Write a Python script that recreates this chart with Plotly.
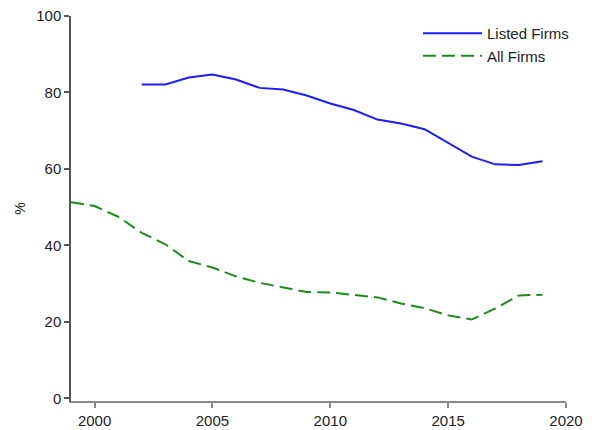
import plotly.graph_objects as go

years_listed = list(range(2002, 2020))
listed_firms = [82.1, 82.1, 83.9, 84.7, 83.4, 81.2, 80.8, 79.2, 77.1, 75.4, 72.9, 71.9, 70.4, 66.7, 63.2, 61.2, 61.0, 62.0]

years_all = list(range(1999, 2020))
all_firms = [51.3, 50.3, 47.5, 43.3, 40.3, 35.9, 34.2, 31.9, 30.2, 29.1, 27.8, 27.7, 27.1, 26.4, 24.8, 23.6, 21.7, 20.6, 23.5, 26.9, 27.1]

x_ticks = [2000, 2005, 2010, 2015, 2020]
y_ticks = [0, 20, 40, 60, 80, 100]

FONT = "Liberation Sans, Arial, sans-serif"

fig = go.Figure()
fig.add_trace(go.Scatter(x=years_listed, y=listed_firms, mode="lines", name="Listed Firms",
                         line=dict(color="#1c1cff", width=2)))
fig.add_trace(go.Scatter(x=years_all, y=all_firms, mode="lines", name="All Firms",
                         line=dict(color="#1a8c1a", width=2, dash="13px,6px")))

fig.update_layout(
    width=608, height=430,
    margin=dict(l=71, r=42, t=16, b=29),
    paper_bgcolor="white", plot_bgcolor="white",
    font=dict(family=FONT, size=15, color="#222"),
    showlegend=True,
    legend=dict(x=0.701, y=0.9975, xanchor="left", yanchor="top",
                bgcolor="rgba(0,0,0,0)", font=dict(size=15, color="#222"),
                tracegroupgap=0, itemwidth=59),
    xaxis=dict(range=[1999, 2020], tickvals=x_ticks, showgrid=False, zeroline=False,
               automargin=False,
               showline=True, linecolor="#888", linewidth=1.5,
               ticks="outside", ticklen=5, tickcolor="#888", tickwidth=1.5,
               tickfont=dict(size=15)),
    yaxis=dict(range=[-0.7, 100], tickvals=y_ticks, showgrid=False, zeroline=False,
               automargin=False,
               showline=True, linecolor="#555", linewidth=1.5,
               ticks="outside", ticklen=5, tickcolor="#555", tickwidth=1.5,
               tickfont=dict(size=15),
               title=dict(text="%", font=dict(size=14), standoff=7)),
)

fig.write_html("out.html", config={"displayModeBar": False},
               post_script="document.body.style.margin='0';document.body.style.overflow='hidden';")
